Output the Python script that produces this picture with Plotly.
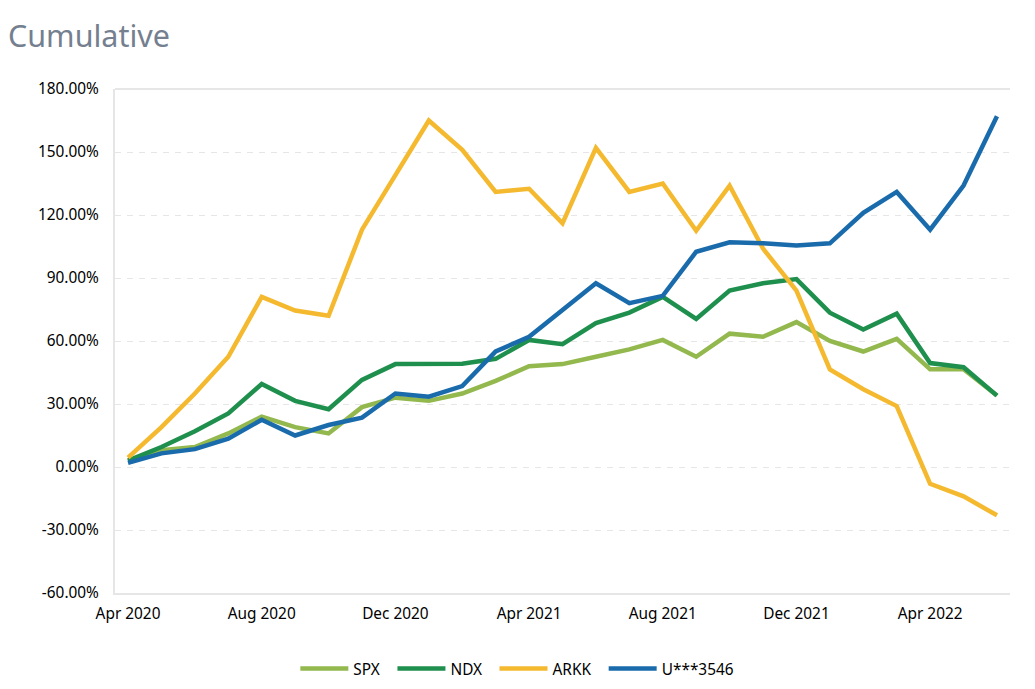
import plotly.graph_objects as go

months = ["Apr 2020","May 2020","Jun 2020","Jul 2020","Aug 2020","Sep 2020","Oct 2020","Nov 2020","Dec 2020",
          "Jan 2021","Feb 2021","Mar 2021","Apr 2021","May 2021","Jun 2021","Jul 2021","Aug 2021","Sep 2021",
          "Oct 2021","Nov 2021","Dec 2021","Jan 2022","Feb 2022","Mar 2022","Apr 2022","May 2022","Jun 2022"]
spx = [3,8,9.5,16,24,19,16,28.5,33,31.5,35,41,48,49,52.5,56,60.5,52.5,63.5,62,69,60,55,61,46.5,46.5,34]
ndx = [3,9.5,17,25.5,39.5,31.5,27.5,41.5,49,49.3,49.2,51.5,60.5,58.5,68.5,73.5,81,70.5,84,87.5,89.5,73.5,65.5,73,49.5,47.5,34]
arkk = [4.5,19,35,52.5,81,74.5,72,113,139,165,151,131,132.5,116,152,131,135,112.5,134,104,84,46.5,37,29,-8,-14,-23]
acct = [2,6.5,8.5,13.5,22.5,15,20,23.5,35,33.5,38.5,55,62,75,87.5,78,81.5,102.5,107,106.5,105.5,106.5,121,131,113,134,167]
names = ["SPX","NDX","ARKK","U***3546"]
series = [spx,ndx,arkk,acct]
colors = ["#92b84e","#1f8f4e","#f4b92f","#1a6bab"]
legend_ids = ["legend","legend2","legend3","legend4"]
legend_x = [0.2015,0.31,0.424,0.546]
y_ticks = [-60,-30,0,30,60,90,120,150,180]
x_ticks = months[::4]

font = "Noto Sans"
fig = go.Figure()
for n,s,c,l in zip(names,series,colors,legend_ids):
    fig.add_trace(go.Scatter(x=months,y=s,name=n,mode="lines",legend=l,showlegend=True,
                             line=dict(color=c,width=4.5,shape="linear")))

fig.update_layout(
    width=1027,height=681,autosize=False,
    paper_bgcolor="white",plot_bgcolor="white",
    margin=dict(l=107,r=25,t=81,b=96,autoexpand=False),
    font=dict(family=font,color="#000000",size=15.4),
    title=dict(text="Cumulative",x=0.0,xanchor="left",y=0.959,yanchor="middle",
               font=dict(family=font,size=30.5,color="#74808f")),
    xaxis=dict(type="category",categoryorder="array",categoryarray=months,
               tickmode="array",tickvals=x_ticks,ticktext=x_ticks,
               range=[-0.39,26.39],showgrid=False,showline=True,linecolor="#e6e6e6",linewidth=2,
               ticks="",mirror=False,zeroline=False,tickfont=dict(size=15.4),ticklabelstandoff=6),
    yaxis=dict(range=[-60,180],tickmode="array",tickvals=y_ticks,
               ticktext=[f"{v:.2f}%" for v in y_ticks],
               showgrid=True,gridcolor="#e6e6e6",griddash="6px,6px",gridwidth=1,
               showline=True,linecolor="#e6e6e6",linewidth=2,ticks="",zeroline=False,
               tickfont=dict(size=15.4),ticklabelstandoff=11),
)
for l,x in zip(legend_ids,legend_x):
    fig.update_layout({l: dict(orientation="h",x=x,xanchor="left",y=-0.151,yanchor="middle",
                               itemwidth=48,font=dict(family=font,size=15.4,color="#000000"))})
fig.add_shape(type="line",xref="paper",yref="paper",x0=0,x1=1,y0=1,y1=1,line=dict(color="#e6e6e6",width=2))
fig.write_html("out.html")
